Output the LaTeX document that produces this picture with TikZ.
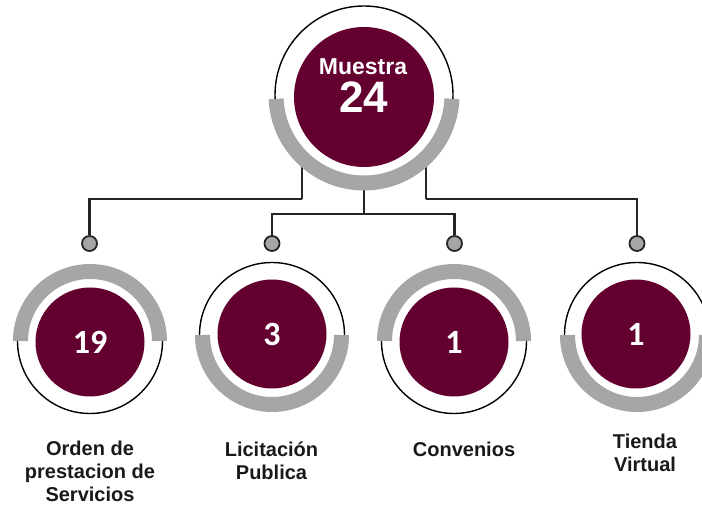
\documentclass[tikz,border=0pt]{standalone}
\usepackage{fontspec}
\setmainfont{Liberation Sans}
\newfontfamily\numfont{Carlito}
\definecolor{vino}{RGB}{100,0,48}
\definecolor{banda}{RGB}{166,166,166}
\definecolor{linea}{RGB}{38,38,38}

\begin{document}
\begin{tikzpicture}[x=1pt,y=1pt,
  ring/.style={circle, draw=black, line width=1.4pt, inner sep=0pt},
  disk/.style={circle, fill=vino, inner sep=0pt, text=white},
  band/.style={draw=banda, line width=15pt},
  conn/.style={draw=linea, line width=2.2pt},
  dot/.style={circle, draw=linea, fill=banda, line width=1.8pt, minimum size=15pt, inner sep=0pt},
  num/.style={font=\numfont\bfseries\fontsize{34}{34}\selectfont},
  rotulo/.style={font=\bfseries\fontsize{20}{23}\selectfont, align=center, text=black!90, anchor=base}]
\useasboundingbox (0,0) rectangle (702,506);
\clip (0,0) rectangle (702,506);
\node[ring, minimum size=178pt] (m) at (364,411) {};
\node[ring, minimum size=145pt] (a) at (90,165) {};
\node[ring, minimum size=145pt] (b) at (272,171) {};
\node[ring, minimum size=145pt] (c) at (454,165) {};
\node[ring, minimum size=145pt] (d) at (637,171) {};
\node[dot] (pa) at (89.5,262.5) {};
\node[dot] (pb) at (272,262.5) {};
\node[dot] (pc) at (454.5,262.5) {};
\node[dot] (pd) at (637,262.5) {};
\coordinate (jl) at (302,307);
\coordinate (jm) at (364,292);
\coordinate (jr) at (426,307);
\draw[conn] (m.226) |- (jl) -| (pa);
\draw[conn] (m) -- (jm);
\draw[conn] (pb) |- (jm) -| (pc);
\draw[conn] (m.314) |- (jr) -| (pd);
\draw[band] (m.center) ++(-2.5:88) arc (-2.5:-177.5:88);
\draw[band] (a.center) ++(0:69.5) arc (0:180:69.5);
\draw[band] (b.center) ++(0:69.5) arc (0:-180:69.5);
\draw[band] (c.center) ++(0:69.5) arc (0:180:69.5);
\draw[band] (d.center) ++(0:69.5) arc (0:-180:69.5);
\node[disk, minimum size=140pt] (mi) at (364,409) {};
\node[disk, num, minimum size=109pt] (ai) at (90,164) {19};
\node[disk, num, minimum size=109pt] (bi) at (272,172) {3};
\node[disk, num, minimum size=109pt] (ci) at (454,164) {1};
\node[disk, num, minimum size=109pt] (di) at (636,172) {1};
\node[text=white, font=\bfseries\fontsize{23}{23}\selectfont, anchor=base] (mt) at (363,431) {Muestra};
\node[text=white, font=\bfseries\fontsize{44}{44}\selectfont, anchor=base] (mn) at (364,393) {24};
\node[rotulo] (la) at (90,4) {Orden de\\prestacion de\\Servicios};
\node[rotulo] (lb) at (271.5,26) {Licitación\\Publica};
\node[rotulo] (lc) at (464,49) {Convenios};
\node[rotulo] (ld) at (645,34) {Tienda\\Virtual};
\end{tikzpicture}
\end{document}
